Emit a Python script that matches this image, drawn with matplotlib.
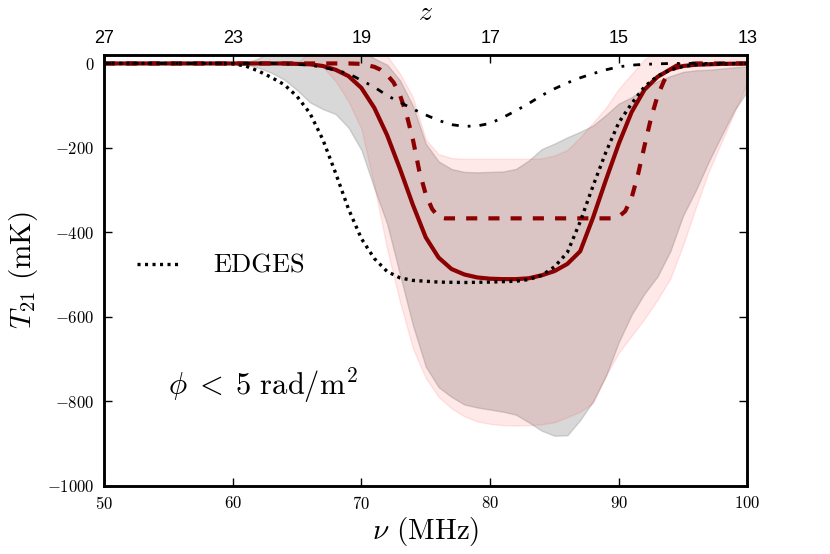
import matplotlib
matplotlib.use("Agg")
import matplotlib.pyplot as plt
import numpy as np

plt.rcParams['font.family'] = 'serif'
plt.rcParams['font.serif'] = ['cmr10']
plt.rcParams['mathtext.fontset'] = 'cm'
plt.rcParams['axes.formatter.use_mathtext'] = True
plt.rcParams['lines.scale_dashes'] = False

# ---------------- data ----------------
# EDGES profile (dotted)
nu_edges = [50, 59, 60, 61, 62, 63, 64, 65, 66, 67, 68, 69, 70, 71, 72, 73, 74, 76,
            78, 80, 82, 83, 84, 85, 86, 87, 88, 89, 90, 91, 92, 93, 94, 95, 96, 98, 100]
T_edges = [0, 0, -1, -6, -18, -33, -50, -78, -118, -180, -260, -345, -415, -462, -493,
           -508, -514, -518, -519, -518, -516, -512, -502, -482, -448, -375, -290, -210,
           -140, -95, -55, -30, -15, -7, -3, -1, 0]

# solid dark red curve
nu_solid = [50, 64, 65, 66, 67, 68, 69, 70, 71, 72, 73, 74, 75, 76, 77, 78, 79, 80, 81,
            82, 83, 84, 85, 86, 87, 88, 89, 90, 91, 92, 93, 94, 95, 96, 97, 98, 100]
T_solid = [0, 0, -1, -2, -6, -15, -30, -58, -105, -170, -250, -335, -412, -460, -487,
           -500, -507, -510, -511, -511, -509, -502, -492, -475, -445, -365, -276, -190,
           -115, -62, -32, -14, -6, -3, -2, -1, 0]

# dashed dark red curve
nu_dashed = [50, 69, 70, 71, 71.5, 72, 72.5, 73, 73.5, 74, 74.5, 75, 75.5, 76, 76.5,
             89.5, 90, 90.5, 91, 91.5, 92, 92.5, 93, 93.5, 94, 94.5, 95, 96, 100]
T_dashed = [0, 0, -1, -8, -15, -27, -45, -75, -120, -180, -255, -310, -345, -364, -367,
            -367, -363, -350, -318, -262, -195, -130, -78, -42, -14, -5, -2, 0, 0]

# dash-dot black curve
nu_dashdot = [50, 63, 64, 65, 66, 67, 68, 69, 70, 71, 72, 73, 74, 75, 76, 77, 78, 79,
              80, 81, 82, 83, 84, 85, 86, 87, 88, 89, 90, 91, 92, 93, 94, 100]
T_dashdot = [0, 0, -1, -2, -4, -9, -16, -24, -40, -56, -76, -92, -108, -122, -135, -145,
             -149, -148, -142, -128, -112, -95, -76, -60, -46, -34, -24, -15, -8, -4, -2,
             -1, 0, 0]

# grey band
nu_gray = [50, 60, 61, 62, 63, 64, 65, 66, 67, 68, 69, 70, 71, 72, 73, 74, 75, 76, 77,
           78, 79, 80, 81, 82, 83, 84, 85, 86, 87, 88, 89, 90, 91, 92, 93, 94, 95, 96,
           97, 98, 99, 100]
gray_low = [0, 0, -2, -10, -22, -38, -63, -92, -108, -120, -152, -205, -295, -380, -500,
            -620, -718, -767, -790, -808, -815, -820, -825, -832, -850, -870, -882, -881,
            -845, -800, -740, -660, -595, -545, -505, -445, -360, -300, -232, -170, -110,
            -65]
gray_high = [0, 0, 2, 12, 30, 30, 30, 30, 30, 30, 30, 30, 12, -3, -40, -100, -190, -232,
             -250, -257, -258, -257, -256, -250, -230, -203, -190, -175, -162, -147, -122,
             -95, -80, -58, -42, -30, -20, -16, -15, -12, -9, -7]

# pink band
nu_pink = [50, 65, 66, 66.5, 67, 68, 69, 70, 71, 72, 73, 74, 75, 76, 77, 78, 79, 80, 81,
           82, 83, 84, 85, 86, 87, 88, 89, 90, 91, 92, 93, 94, 95, 96, 97, 98, 99, 100]
pink_low = [0, 0, 0, 0, -8, -42, -90, -155, -290, -440, -565, -675, -745, -790, -817,
            -836, -848, -854, -857, -858, -857, -855, -850, -838, -825, -805, -740, -685,
            -645, -605, -560, -510, -430, -340, -255, -185, -115, -45]
pink_high = [0, 0, 30, 30, 30, 30, 30, 30, 30, 18, -24, -80, -180, -215, -224, -226,
             -226, -226, -226, -226, -226, -225, -218, -205, -175, -140, -105, -60, -25,
             10, 30, 30, 30, 30, 30, 30, 30, 30]

# axis ticks
nu_ticks = [50, 60, 70, 80, 90, 100]
z_labels = ['27', '23', '19', '17', '15', '13']
T_ticks = [0, -200, -400, -600, -800, -1000]

# ---------------- figure ----------------
fig = plt.figure(figsize=(8.3, 5.54), dpi=100)
ax = fig.add_axes([0.1253, 0.1236, 0.7753, 0.7771])

ax.fill_between(nu_gray, gray_low, gray_high, color='gray', alpha=0.3, lw=1)
ax.fill_between(nu_pink, pink_low, pink_high, color='red', alpha=0.09, lw=1)

ax.plot(nu_dashed, T_dashed, color='#8b0000', lw=3, dashes=(8, 8))
ax.plot(nu_solid, T_solid, color='#8b0000', lw=3)
ax.plot(nu_dashdot, T_dashdot, color='black', lw=2, dashes=(5, 6.5, 2, 6.5))
ax.plot(nu_edges, T_edges, color='black', lw=2.4, dashes=(2.2, 3.2), label='EDGES')

ax.set_xlim(50, 100)
ax.set_ylim(-1000, 20)
ax.set_xticks(nu_ticks)
ax.set_yticks(T_ticks)
ax.tick_params(direction='in', right=True, top=False, length=5.5, width=1,
               labelsize=12, pad=7)
for s in ax.spines.values():
    s.set_linewidth(1.8)

ax.set_xlabel(r'$\nu$ (MHz)', fontsize=21, labelpad=2)
ax.set_ylabel(r'$T_{21}$ (mK)', fontsize=21, labelpad=5)

ax.text(0.1, 0.23, r'$\phi\;<\;5\ \mathrm{rad/m^2}$', fontsize=22,
        transform=ax.transAxes, ha='left', va='center')

ax.legend(loc='center left', bbox_to_anchor=(0.051, 0.51), frameon=False,
          fontsize=19, handlelength=1.7, handletextpad=1.2, borderpad=0,
          borderaxespad=0)

ax2 = ax.twiny()
ax2.set_xlim(50, 100)
ax2.set_xticks(nu_ticks)
ax2.set_xticklabels(z_labels, fontfamily='Liberation Sans', fontsize=13)
ax2.tick_params(direction='in', length=5.5, width=1, pad=6)
ax2.set_xlabel(r'$z$', fontsize=20, labelpad=7)
for s in ax2.spines.values():
    s.set_linewidth(1.8)

fig.savefig('out.png', dpi=100)
